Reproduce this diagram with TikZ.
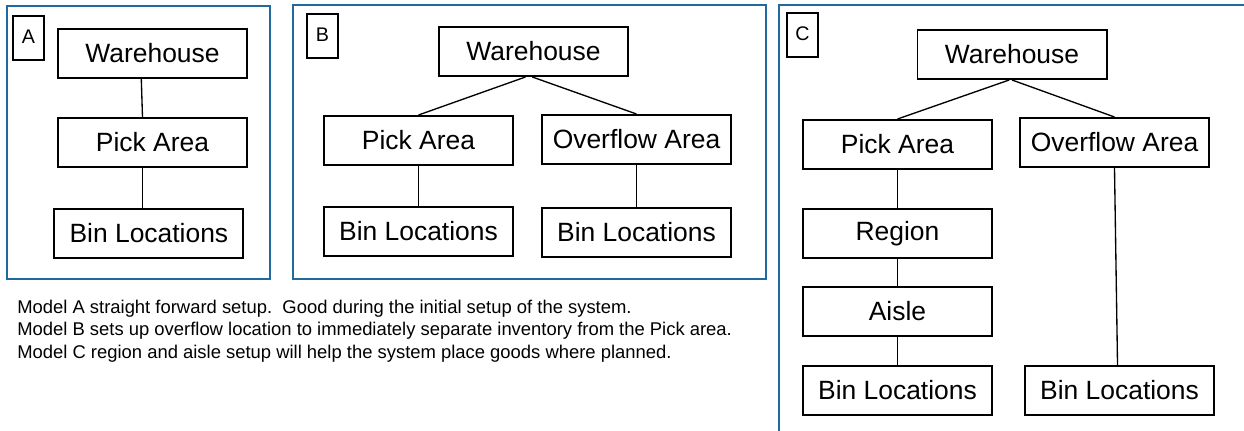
\documentclass[tikz,border=0pt]{standalone}
\usepackage{fontspec}
\setmainfont{Liberation Sans}
\usepackage{xcolor}
\usepackage{tikz}
\usetikzlibrary{positioning}

\definecolor{frameblue}{RGB}{31,106,158}

\begin{document}
\begin{tikzpicture}[
        x=0.025cm, y=-0.025cm,
        node distance=1cm, font=\fontsize{18.8}{22}\selectfont,
        level/.style={rectangle, draw, line width=1.4pt, minimum width=4.725cm, minimum height=1.225cm, inner sep=2pt, align=center},
        tag/.style={rectangle, draw, line width=1.4pt, minimum width=0.775cm, inner sep=0pt, text height=0.7cm, text depth=0.4cm, anchor=north west, font=\fontsize{14}{16}\selectfont},
        frame/.style={draw=frameblue, line width=1.5pt},
        link/.style={line width=0.95pt},
        note/.style={anchor=north west, inner sep=0pt, align=left, font=\fontsize{13.1}{16}\selectfont}
    ]
        \useasboundingbox (0,0) rectangle (1244,431);

        % model A
        \draw[frame] (7,6) rectangle (270,279);
        \node[tag] (tagA) at (12,15) {A};
        \node[level] (whA) at (152.5,53.5) {Warehouse};
        \node[level, below=0.95cm of whA] (pickA) {Pick Area};
        \node[level, below=1cm of pickA, xshift=-0.09cm] (binA) {Bin Locations};
        \draw[link] ([xshift=-0.28cm]whA.south) -- ([xshift=-0.25cm]pickA.north);
        \draw[link] ([xshift=-0.25cm]pickA.south) -- ([xshift=-0.16cm]binA.north);

        % model B
        \draw[frame] (293,5) rectangle (766,279);
        \node[tag] (tagB) at (306,13) {B};
        \node[level] (whB) at (533.5,51.5) {Warehouse};
        \node[level] (pickB) at (418.5,140.5) {Pick Area};
        \node[level] (overB) at (636.5,139.5) {Overflow Area};
        \node[level, below=1cm of pickB] (binB1) {Bin Locations};
        \node[level, below=1.05cm of overB] (binB2) {Bin Locations};
        \draw[link] ([xshift=-0.2cm]whB.south) -- (pickB.north);
        \draw[link] ([xshift=-0.03cm]whB.south) -- (overB.north);
        \draw[link] (pickB) -- (binB1);
        \draw[link] (overB) -- (binB2);

        % model C
        \draw[frame] (779,431) -- (779,5) -- (1244,5);
        \node[tag] (tagC) at (786,12) {C};
        \node[level] (whC) at (1012,54.5) {Warehouse};
        \node[level] (pickC) at (897.5,144.5) {Pick Area};
        \node[level] (overC) at (1114.5,142.5) {Overflow Area};
        \node[level, below=0.95cm of pickC] (regC) {Region};
        \node[level, below=0.675cm of regC] (aisleC) {Aisle};
        \node[level, below=0.7cm of aisleC] (binC1) {Bin Locations};
        \node[level, right=0.775cm of binC1] (binC2) {Bin Locations};
        \draw[link] ([xshift=-0.07cm]whC.south) -- (pickC.north);
        \draw[link] (whC.south) -- (overC.north);
        \draw[link] (pickC) -- (regC);
        \draw[link] (regC) -- (aisleC);
        \draw[link] (aisleC) -- (binC1);
        \draw[link] (overC.south) -- ([xshift=-0.05cm]binC2.north);

        \node[note] (notes) at (17,299.5) {Model A straight forward setup.\ \ Good during the initial setup of the system.\\
            Model B sets up overflow location to immediately separate inventory from the Pick area.\\
            Model C region and aisle setup will help the system place goods where planned.};
    \end{tikzpicture}
\end{document}
